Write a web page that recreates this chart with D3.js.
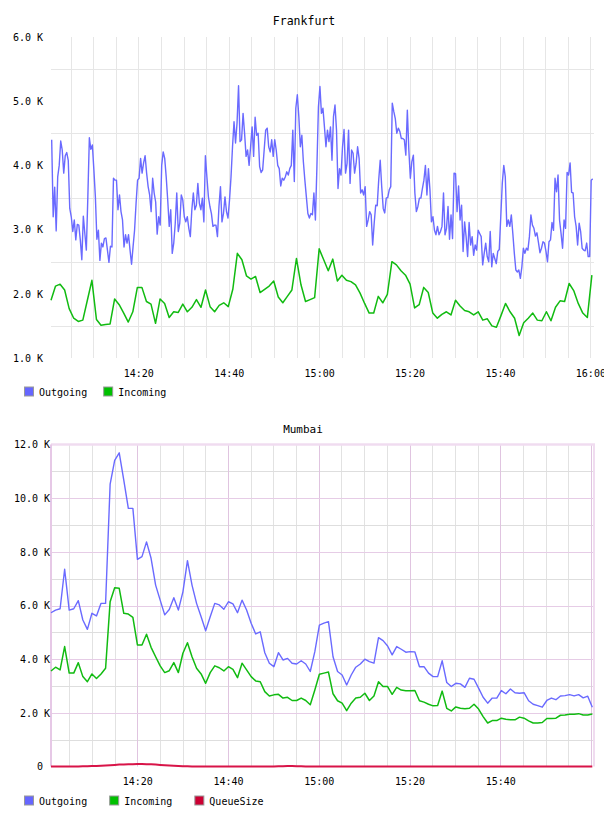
<!DOCTYPE html>
<html>
<head>
<meta charset="utf-8">
<script src="https://cdn.jsdelivr.net/npm/d3@7"></script>
<style>
  body { margin: 0; background: #fff; }
  svg text { font-family: "DejaVu Sans Mono", monospace; fill: #000; }
</style>
</head>
<body>
<svg id="chart" width="608" height="816"></svg>
<script>
var parseTime = d3.timeParse("%H:%M:%S");
var fmtK = function (v) { return v === 0 ? "0" : (v / 1000).toFixed(1) + " K"; };

// ---------- Frankfurt ----------
var frankfurtOutgoing = [
  4400,3200,3660,2980,3820,4000,4380,4240,3880,4150,
  4200,4080,3330,3200,2970,3150,2840,3080,3070,2840,
  2530,3210,2940,2680,3510,4430,4250,4320,3930,3510,
  2850,2990,2520,2790,2730,2860,2870,2680,2490,2740,
  2730,3800,3770,3770,3310,3540,3280,3150,2730,2920,
  2790,2920,2680,2460,2730,2990,3410,3770,3800,4110,
  3880,4040,4150,3880,3670,3540,3280,3800,3570,3430,
  2930,3200,3070,4000,4210,4110,3820,3460,3050,3310,
  2630,2790,3100,3570,2970,3100,3540,3460,
  3200,3120,3200,3020,2890,3310,3570,3310,3380,3720,
  3410,3310,3490,3120,4150,3820,3510,3360,3250,3050,
  3070,3070,2890,3360,3670,3120,3250,3510,3280,3180,
  3460,3820,4290,4680,4350,4660,5240,4370,4400,4810,
  4500,4140,4240,4000,4290,4600,4140,4750,4470,4500,
  3980,3890,3930,4240,4550,4580,4290,4210,4400,4140,
  4400,4240,4000,3950,3680,3800,3770,3820,3900,3850,
  3950,4000,4550,3750,4890,5100,4760,4290,4470,4060,
  3770,3510,3250,3180,3250,3230,3570,3150,3980,4910,
  5230,4810,4890,4600,4290,4550,4370,4600,4080,4760,
  4940,4550,3640,3950,3850,4290,4560,3880,4030,4550,
  3720,4240,4190,3880,4030,4290,4110,3570,3620,3540,
  3670,3050,3150,3280,3230,2760,3100,3380,3370,3770,
  4080,3670,3330,3260,3490,3500,3620,3670,4970,4840,
  4730,4500,4580,4530,4420,4420,4400,4160,4860,4240,
  3800,4060,4160,3570,3280,3360,3490,3490,3640,3770,
  4000,3540,3950,3620,3120,3200,2990,2920,3050,2920,
  2970,3050,3570,2920,3020,3360,2850,3230,2860,3880,
  3870,3280,3680,3150,3380,2660,3120,2890,2580,3110,
  2760,2890,2600,2760,2680,2990,2940,2890,2450,2630,
  2790,2580,2500,2970,2420,2630,2550,2470,2660,2690,
  3200,3720,4000,3820,3050,3150,3050,3230,2940,2630,
  2370,2340,2370,2240,2420,2710,2630,2710,2680,2890,
  3230,3070,3020,2900,2950,2800,2640,2710,2810,2790,
  2660,2500,2810,2840,3110,2990,3800,3590,3850,3150,
  2940,2710,3150,3020,3890,3850,4040,3580,3570,3200,
  3050,2760,3100,2970,2710,2680,2670,2790,2580,2580,
  3770,3790
];
var frankfurtIncoming = [
  1900,2120,2150,2060,1770,1620,1570,1590,1900,2210,
  1600,1510,1520,1530,1920,1830,1700,1560,1720,2100,
  2100,1880,1840,1540,1920,1850,1630,1720,1710,1840,
  1720,1790,1910,1790,2060,1800,1720,1820,1860,1800,
  2070,2630,2530,2280,2230,2270,2020,2070,2120,2200,
  1950,1860,1960,2060,2550,2140,
  1880,1910,1940,2700,2530,2360,2540,2200,2290,
  2210,2190,2140,2010,1850,1700,1700,1960,1860,1990,
  2500,2450,2360,2290,2150,1780,1830,2100,2020,1700,
  1620,1680,1720,1670,1900,1810,1740,1720,1670,1720,
  1590,1610,1500,1480,1660,1850,1720,1620,1350,1550,
  1620,1700,1590,1580,1720,1580,1790,1890,1880,2160,
  2050,1850,1700,1630,2290
];
var frankfurtOutgoingSpan = ["14:00:50", "16:00:31"];
var frankfurtIncomingSpan = ["14:00:41", "16:00:20"];
var frankfurtDomain = ["14:00:41", "16:00:31"];
var frankfurtYTicks = [1000, 2000, 3000, 4000, 5000, 6000];
var frankfurtGridY = [1500, 2500, 3500, 4500, 5500];
var frankfurtXTicks = ["14:20:00", "14:40:00", "15:00:00", "15:20:00", "15:40:00", "16:00:00"];

// ---------- Mumbai ----------
var mumbaiOutgoing = [
  5730,5830,5880,7350,5830,5880,6180,5460,5110,5710,
  5610,6080,6080,10520,11410,11690,10670,9620,9620,7720,
  7820,8370,7760,6760,6200,5650,5850,6290,5830,6510,
  7670,6760,6080,5580,5060,5580,6080,6020,5860,6140,
  6060,5730,6200,5830,5340,4940,5020,4240,3850,3720,
  4240,3970,4030,3850,3820,3940,3820,3540,4280,5270,
  5340,5400,4090,3540,3410,3040,3410,3700,3820,4000,
  3910,3850,4800,4690,4490,4160,4470,4370,4260,4280,
  4270,3720,3720,3480,3350,3350,3940,3130,2980,3100,
  3080,2950,3290,3250,2920,2580,2360,2550,2550,2830,
  2710,2890,2750,2730,2750,2450,2320,2270,2210,2460,
  2550,2490,2630,2640,2680,2630,2680,2560,2620,2210
];
var mumbaiIncoming = [
  3560,3700,3600,4470,3480,3480,3870,3350,3160,3450,
  3280,3450,3660,6140,6660,6640,5710,5680,5560,4530,
  4530,4930,4440,4090,3750,3500,3570,3870,3500,4220,
  4610,4090,3660,3450,3100,3500,3750,3680,3560,3720,
  3620,3310,3850,3600,3350,3190,3160,2790,2630,2670,
  2690,2550,2580,2460,2460,2550,
  2460,2300,2850,3440,3480,3520,2710,2450,2360,2080,
  2360,2550,2580,2730,2460,2630,3160,2980,2980,2690,
  2950,2850,2820,2820,2830,2450,2400,2320,2260,2270,
  2810,2170,2070,2220,2170,2150,2170,2320,2140,1860,
  1620,1710,1710,1800,1760,1740,1740,1840,1800,1700,
  1620,1620,1640,1790,1790,1800,1910,1920,1950,1950,
  1970,1920,1920,1960
];
var mumbaiQueueSize = [
  0,0,0,0,0,0,0,5,10,15,
  20,30,40,50,60,70,75,80,85,90,
  90,85,80,70,60,50,40,30,20,10,
  5,0,0,0,0,0,0,0,0,0,
  0,0,0,0,0,0,0,0,0,0,
  5,10,15,15,10,5,0,0,0,0,
  0,0,0,0,0,0,0,0,0,0,
  0,0,0,0,0,0,0,0,0,0,
  0,0,0,0,0,0,0,0,0,0,
  0,0,0,0,0,0,0,0,0,0,
  0,0,0,0,0,0,0,0,0,0,
  0,0,0,0,0,0,0,0,0,0
];
var mumbaiSpan = ["14:00:59", "16:00:17"];
var mumbaiDomain = ["14:00:59", "16:00:17"];
var mumbaiYTicks = [0, 2000, 4000, 6000, 8000, 10000, 12000];
var mumbaiMajorY = [2000, 4000, 6000, 8000, 10000];
var mumbaiMinorY = [1000, 3000, 5000, 7000, 9000, 11000];
var mumbaiXTicks = ["14:20:00", "14:40:00", "15:00:00", "15:20:00", "15:40:00"];

var seriesNames = ["Outgoing", "Incoming", "QueueSize"];
var seriesColors = { Outgoing: "#6666ff", Incoming: "#00c000", QueueSize: "#cc0033" };
var lineColors = { Outgoing: "#6a6aff", Incoming: "#11bb11", QueueSize: "#d81448" };

// spread the samples of a series evenly over its recorded time span
function toPoints(values, span) {
    var t0 = parseTime(span[0]), t1 = parseTime(span[1]);
    var step = (t1 - t0) / (values.length - 1);
    return values.map(function (v, i) { return { t: new Date(+t0 + i * step), v: v }; });
}

var svg = d3.select("#chart");

function drawLine(g, x, y, points, name, width) {
    var line = d3.line()
        .x(function (d) { return x(d.t); })
        .y(function (d) { return y(d.v); });
    g.append("path")
        .datum(points)
        .attr("fill", "none")
        .attr("stroke", lineColors[name])
        .attr("stroke-width", width)
        .attr("stroke-linejoin", "round")
        .attr("d", line);
}

function drawLegend(g, names, baseY, gap) {
    var cx = 24;
    names.forEach(function (name) {
        g.append("rect")
            .attr("x", cx + 0.5).attr("y", baseY - 8.5)
            .attr("width", 9).attr("height", 9)
            .attr("fill", seriesColors[name])
            .attr("stroke", "#999").attr("stroke-width", 1);
        var t = g.append("text")
            .attr("x", cx + 15).attr("y", baseY)
            .style("font-size", "10px")
            .text(name);
        cx = cx + 15 + t.node().getComputedTextLength() + gap;
    });
}

// ******* Frankfurt chart *******
(function () {
    var g = svg.append("g");
    var x = d3.scaleTime().domain(frankfurtDomain.map(parseTime)).range([51, 592.7]);
    var y = d3.scaleLinear().domain([1000, 6000]).range([358, 37]);

    g.append("text")
        .attr("x", 304).attr("y", 25)
        .attr("text-anchor", "middle")
        .style("font-size", "11.5px")
        .text("Frankfurt");

    // vertical grid, every 5 minutes
    g.selectAll(".vgrid")
        .data(d3.timeMinute.every(5).range(x.domain()[0], x.domain()[1]))
        .enter().append("line")
        .attr("class", "vgrid")
        .attr("x1", function (d) { return Math.round(x(d)) + 0.5; })
        .attr("x2", function (d) { return Math.round(x(d)) + 0.5; })
        .attr("y1", 37).attr("y2", 358)
        .attr("stroke", "#e6e6e6");

    g.selectAll(".hgrid")
        .data(frankfurtGridY)
        .enter().append("line")
        .attr("class", "hgrid")
        .attr("x1", 51).attr("x2", 594)
        .attr("y1", function (d) { return Math.round(y(d)) + 0.5; })
        .attr("y2", function (d) { return Math.round(y(d)) + 0.5; })
        .attr("stroke", "#e6e6e6");

    var yAxis = g.append("g")
        .attr("transform", "translate(51,0)")
        .call(d3.axisLeft(y).tickValues(frankfurtYTicks).tickFormat(fmtK).tickSize(0).tickPadding(8));
    yAxis.select(".domain").remove();
    yAxis.selectAll("text").style("font-size", "10px").attr("font-family", null);

    svg.append("clipPath").attr("id", "frClip")
        .append("rect").attr("x", 0).attr("y", 0).attr("width", 604).attr("height", 400);
    var xAxis = g.append("g")
        .attr("clip-path", "url(#frClip)")
        .append("g")
        .attr("transform", "translate(0,358)")
        .call(d3.axisBottom(x).tickValues(frankfurtXTicks.map(parseTime))
            .tickFormat(d3.timeFormat("%H:%M")).tickSize(0).tickPadding(11.6));
    xAxis.select(".domain").remove();
    xAxis.selectAll("text").style("font-size", "10px").attr("font-family", null);

    drawLine(g, x, y, toPoints(frankfurtOutgoing, frankfurtOutgoingSpan), "Outgoing", 1.4);
    drawLine(g, x, y, toPoints(frankfurtIncoming, frankfurtIncomingSpan), "Incoming", 1.5);

    drawLegend(g, seriesNames.slice(0, 2), 395.5, 16);
})();

// ******* Mumbai chart *******
(function () {
    var g = svg.append("g");
    var x = d3.scaleTime().domain(mumbaiDomain.map(parseTime)).range([51, 592.3]);
    var y = d3.scaleLinear().domain([0, 12000]).range([766.5, 444.5]);
    var top = y(12000), bottom = y(0);

    g.append("text")
        .attr("x", 303).attr("y", 433)
        .attr("text-anchor", "middle")
        .style("font-size", "11px")
        .text("Mumbai");

    var ticks5 = d3.timeMinute.every(5).range(x.domain()[0], x.domain()[1]);
    g.selectAll(".vminor")
        .data(ticks5.filter(function (d) { return d.getMinutes() % 20 !== 0; }))
        .enter().append("line")
        .attr("class", "vminor")
        .attr("x1", function (d) { return Math.round(x(d)) + 0.5; })
        .attr("x2", function (d) { return Math.round(x(d)) + 0.5; })
        .attr("y1", top).attr("y2", bottom)
        .attr("stroke", "#e2e2e2");

    g.selectAll(".hminor")
        .data(mumbaiMinorY)
        .enter().append("line")
        .attr("class", "hminor")
        .attr("x1", 51).attr("x2", 594)
        .attr("y1", function (d) { return Math.round(y(d)) + 0.5; })
        .attr("y2", function (d) { return Math.round(y(d)) + 0.5; })
        .attr("stroke", "#dedede");

    g.selectAll(".vmajor")
        .data(ticks5.filter(function (d) { return d.getMinutes() % 20 === 0; }))
        .enter().append("line")
        .attr("class", "vmajor")
        .attr("x1", function (d) { return Math.round(x(d)) + 0.5; })
        .attr("x2", function (d) { return Math.round(x(d)) + 0.5; })
        .attr("y1", top).attr("y2", bottom)
        .attr("stroke", "#e0c4e0");

    g.selectAll(".hmajor")
        .data(mumbaiMajorY)
        .enter().append("line")
        .attr("class", "hmajor")
        .attr("x1", 51).attr("x2", 594)
        .attr("y1", function (d) { return Math.round(y(d)) + 0.5; })
        .attr("y2", function (d) { return Math.round(y(d)) + 0.5; })
        .attr("stroke", "#e6cce6");

    // frame
    g.append("line").attr("x1", 51).attr("x2", 595).attr("y1", top).attr("y2", top)
        .attr("stroke", "#f0dcf0").attr("stroke-width", 2.5);
    g.append("line").attr("x1", 51).attr("x2", 51).attr("y1", top).attr("y2", bottom)
        .attr("stroke", "#e6c8e6").attr("stroke-width", 2);
    g.append("line").attr("x1", 594).attr("x2", 594).attr("y1", top).attr("y2", bottom)
        .attr("stroke", "#f0dcf0").attr("stroke-width", 2);

    var yAxis = g.append("g")
        .attr("transform", "translate(51,0)")
        .call(d3.axisLeft(y).tickValues(mumbaiYTicks).tickFormat(fmtK).tickSize(0).tickPadding(1));
    yAxis.select(".domain").remove();
    yAxis.selectAll("text").style("font-size", "10px").attr("font-family", null)
        .filter(function (d) { return d === 0; }).attr("x", -8);

    var xAxis = g.append("g")
        .attr("transform", "translate(0," + bottom + ")")
        .call(d3.axisBottom(x).tickValues(mumbaiXTicks.map(parseTime))
            .tickFormat(d3.timeFormat("%H:%M")).tickSize(0).tickPadding(11.4));
    xAxis.select(".domain").remove();
    xAxis.selectAll("text").style("font-size", "10px").attr("font-family", null);

    drawLine(g, x, y, toPoints(mumbaiOutgoing, mumbaiSpan), "Outgoing", 1.4);
    drawLine(g, x, y, toPoints(mumbaiIncoming, mumbaiSpan), "Incoming", 1.5);
    drawLine(g, x, y, toPoints(mumbaiQueueSize, mumbaiSpan), "QueueSize", 2);

    drawLegend(g, seriesNames, 804.5, 22);
})();
</script>
</body>
</html>
